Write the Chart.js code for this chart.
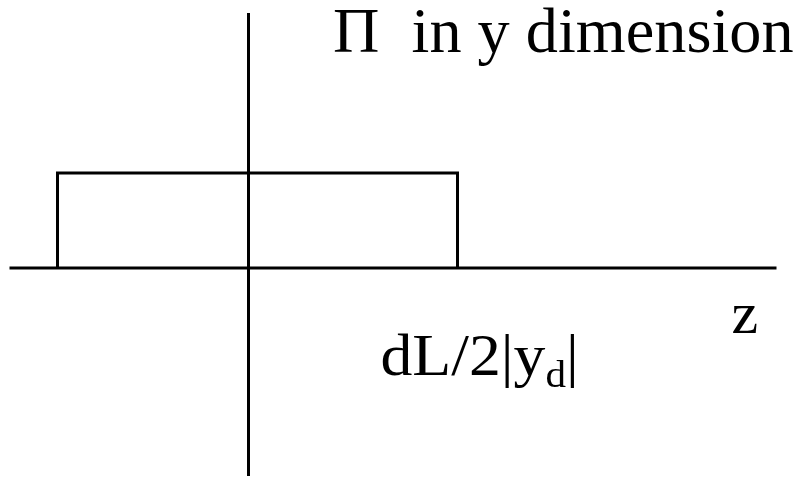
<!DOCTYPE html>
<html>
<head>
<meta charset="utf-8">
<script src="https://cdn.jsdelivr.net/npm/chart.js@4"></script>
<style>
  html, body { margin: 0; padding: 0; background: #fff; }
  #wrap { width: 796px; height: 479px; }
</style>
</head>
<body>
<div id="wrap"><canvas id="pulseChart" width="796" height="479"></canvas></div>
<script>
// z axis and amplitude axis, origin where they cross
const zAxisX = [-239, 528];
const zAxisY = [0, 0];
const ampAxisX = [0, 0];
const ampAxisY = [-208, 255];

// the rectangle (pulse) in y dimension
const pulseX = [-191, -191, 209, 209];
const pulseY = [0, 95, 95, 0];

function toPoints(xs, ys) {
  return xs.map((x, i) => ({ x: x, y: ys[i] }));
}

const SERIF = "'Liberation Serif', 'Times New Roman', serif";

// draws text with a little horizontal stretch, returns advance in px
function stretchText(ctx, txt, x, y, size, sx) {
  ctx.save();
  ctx.font = size + "px " + SERIF;
  ctx.translate(x, y);
  ctx.scale(sx, 1);
  ctx.fillText(txt, 0, 0);
  const w = ctx.measureText(txt).width * sx;
  ctx.restore();
  return w;
}

// text labels drawn at data positions
const labelPlugin = {
  id: "labels",
  afterDraw(chart) {
    const ctx = chart.ctx;
    const xs = chart.scales.x;
    const ys = chart.scales.y;
    ctx.save();
    ctx.fillStyle = "#000";
    ctx.textBaseline = "alphabetic";
    ctx.textAlign = "left";

    stretchText(ctx, "\u03A0  in y dimension", xs.getPixelForValue(84.5), ys.getPixelForValue(216), 63, 1.02);

    stretchText(ctx, "z", xs.getPixelForValue(483), ys.getPixelForValue(-65), 60, 1);

    // dL/2|y_d|
    let px = xs.getPixelForValue(132);
    const base = ys.getPixelForValue(-107);
    px += stretchText(ctx, "dL/2|y", px, base, 59, 1.08);
    px += stretchText(ctx, "d", px, base + 12, 38, 1.08);
    stretchText(ctx, "|", px, base, 59, 1.08);
    ctx.restore();
  }
};

const lineStyle = {
  borderColor: "#000",
  borderWidth: 3,
  pointRadius: 0,
  showLine: true,
  fill: false,
  tension: 0
};

const data = {
  datasets: [
    Object.assign({ label: "z axis", data: toPoints(zAxisX, zAxisY) }, lineStyle),
    Object.assign({ label: "amplitude axis", data: toPoints(ampAxisX, ampAxisY) }, lineStyle),
    Object.assign({ label: "pulse", data: toPoints(pulseX, pulseY) }, lineStyle)
  ]
};

const config = {
  type: "scatter",
  data: data,
  options: {
    responsive: false,
    animation: false,
    layout: { padding: 0 },
    plugins: {
      legend: { display: false },
      tooltip: { enabled: false },
      title: { display: false }
    },
    scales: {
      x: { type: "linear", min: -248.5, max: 547.5, display: false },
      y: { type: "linear", min: -211, max: 268, display: false }
    }
  },
  plugins: [labelPlugin]
};

let myChart = new Chart(document.getElementById("pulseChart"), config);
</script>
</body>
</html>
